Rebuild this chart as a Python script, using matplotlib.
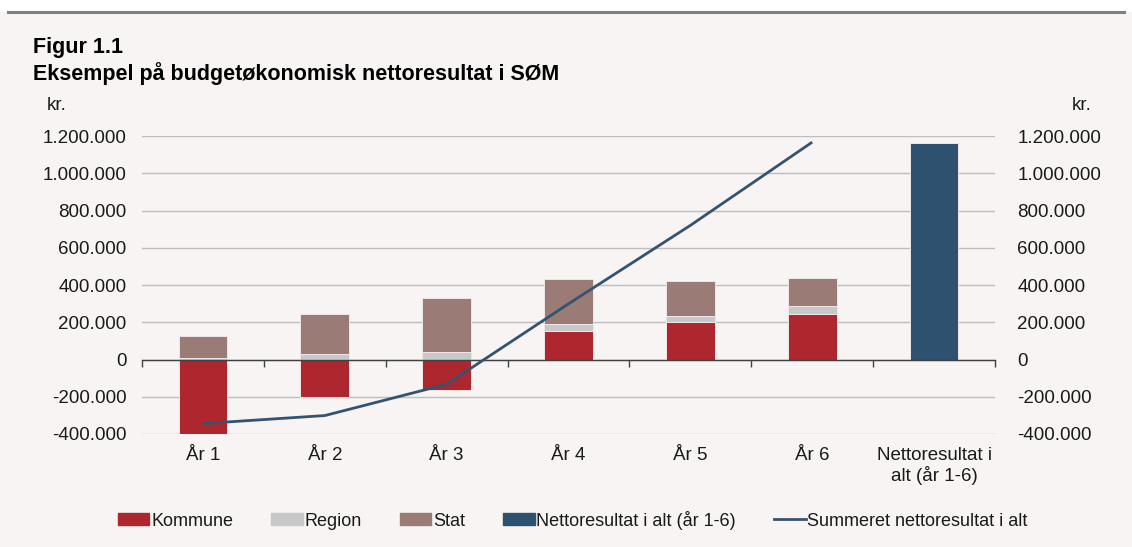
import numpy as np
import matplotlib.pyplot as plt
from matplotlib.patches import Patch, Rectangle
from matplotlib.lines import Line2D
from matplotlib.ticker import FuncFormatter

plt.rcParams['font.family'] = ['Liberation Sans', 'DejaVu Sans']

# Data (kr.)
kategorier = ['År 1', 'År 2', 'År 3', 'År 4', 'År 5', 'År 6', 'Nettoresultat i\nalt (år 1-6)']
kommune = [-471000, -203000, -163000, 154000, 201000, 245000]
region = [10000, 28000, 41000, 36000, 32000, 40000]
stat = [117000, 217000, 290000, 240000, 187000, 154000]
netto_i_alt = [1165000]
summeret = [-344000, -301000, -133000, 299000, 720000, 1167000]
yticks = [-400000, -200000, 0, 200000, 400000, 600000, 800000, 1000000, 1200000]

BG = '#F7F4F3'
C_KOM = '#AE262E'
C_REG = '#C8C8C9'
C_STAT = '#9A7B76'
C_NET = '#2E516F'
C_LINE = '#34536F'
TXT = '#1A1A1A'
FS = 13.5


def fmt(v, pos=None):
    return f"{int(round(v)):,}".replace(',', '.')


fig = plt.figure(figsize=(11.32, 5.47), dpi=100, facecolor=BG)
# hvid stribe + grå linje øverst
fig.add_artist(Rectangle((0, 1 - 12 / 547), 1, 12 / 547, transform=fig.transFigure,
                         facecolor='white', edgecolor='none'))
fig.add_artist(Line2D([0.007, 0.993], [1 - 12 / 547] * 2, transform=fig.transFigure,
                      color='#808080', lw=2.2))

ax = fig.add_axes([142 / 1132, 1 - 434 / 547, (995 - 142) / 1132, (434 - 136) / 547])
ax.set_facecolor(BG)

x = np.arange(len(kommune))
w = 0.4
kommune_a = np.array(kommune)
region_bund = np.maximum(kommune_a, 0)
stat_bund = region_bund + np.array(region)
edge = dict(edgecolor='#EFE7E7', linewidth=0.7)

ax.bar(x, kommune, w, color=C_KOM, **edge, zorder=2)
ax.bar(x, region, w, bottom=region_bund, color=C_REG, **edge, zorder=2)
ax.bar(x, stat, w, bottom=stat_bund, color=C_STAT, **edge, zorder=2)
ax.bar([len(kommune)], netto_i_alt, w, color=C_NET, **edge, zorder=2)
ax.plot(x, summeret, color=C_LINE, lw=2, zorder=4, solid_capstyle='butt')

ax.set_xlim(-0.5, len(kategorier) - 0.5)
ax.set_ylim(-400000, 1200000)
ax.set_yticks(yticks)
ax.yaxis.set_major_formatter(FuncFormatter(fmt))
ax.tick_params(axis='y', length=0, pad=11, labelsize=FS, labelcolor=TXT)
ax.yaxis.grid(True, color='#BEBEBE', lw=1)
ax.set_axisbelow(True)

for s in ['top', 'left', 'right']:
    ax.spines[s].set_visible(False)
ax.spines['bottom'].set_position(('data', 0))
ax.spines['bottom'].set_color('#404040')
ax.spines['bottom'].set_linewidth(1)
ax.spines['bottom'].set_zorder(3)
ax.set_xticks(np.arange(-0.5, len(kategorier)))
ax.tick_params(axis='x', length=5, width=1, color='#404040', labelbottom=False)

for i, lab in enumerate(kategorier):
    ax.text(i, -0.042, lab, transform=ax.get_xaxis_transform(), ha='center', va='top',
            fontsize=FS, color=TXT, linespacing=1.15)

ax2 = ax.twinx()
ax2.set_ylim(ax.get_ylim())
ax2.set_yticks(yticks)
ax2.yaxis.set_major_formatter(FuncFormatter(fmt))
ax2.tick_params(axis='y', length=0, pad=16, labelsize=FS, labelcolor=TXT)
for s in ax2.spines.values():
    s.set_visible(False)

fig.text(33 / 1132, 1 - 47 / 547, 'Figur 1.1', fontsize=15.5, fontweight='bold', va='center', color='black')
fig.text(33 / 1132, 1 - 74 / 547, 'Eksempel på budgetøkonomisk nettoresultat i SØM', fontsize=15.5,
         fontweight='bold', va='center', color='black')
fig.text(47 / 1132, 1 - 105 / 547, 'kr.', fontsize=FS, va='center', color=TXT)
fig.text(1072 / 1132, 1 - 105 / 547, 'kr.', fontsize=FS, va='center', color=TXT)

handles = [Patch(color=C_KOM, label='Kommune'),
           Patch(color=C_REG, label='Region'),
           Patch(color=C_STAT, label='Stat'),
           Patch(color=C_NET, label='Nettoresultat i alt (år 1-6)'),
           Line2D([], [], color=C_LINE, lw=2, label='Summeret nettoresultat i alt')]
fig.legend(handles=handles, loc='center', bbox_to_anchor=(0.506, 1 - 520 / 547), ncol=5,
           frameon=False, fontsize=13, handlelength=1.75, handleheight=0.65,
           handletextpad=0.1, columnspacing=2.1, labelcolor=TXT)

fig.savefig('out.png', dpi=100, facecolor=BG)
